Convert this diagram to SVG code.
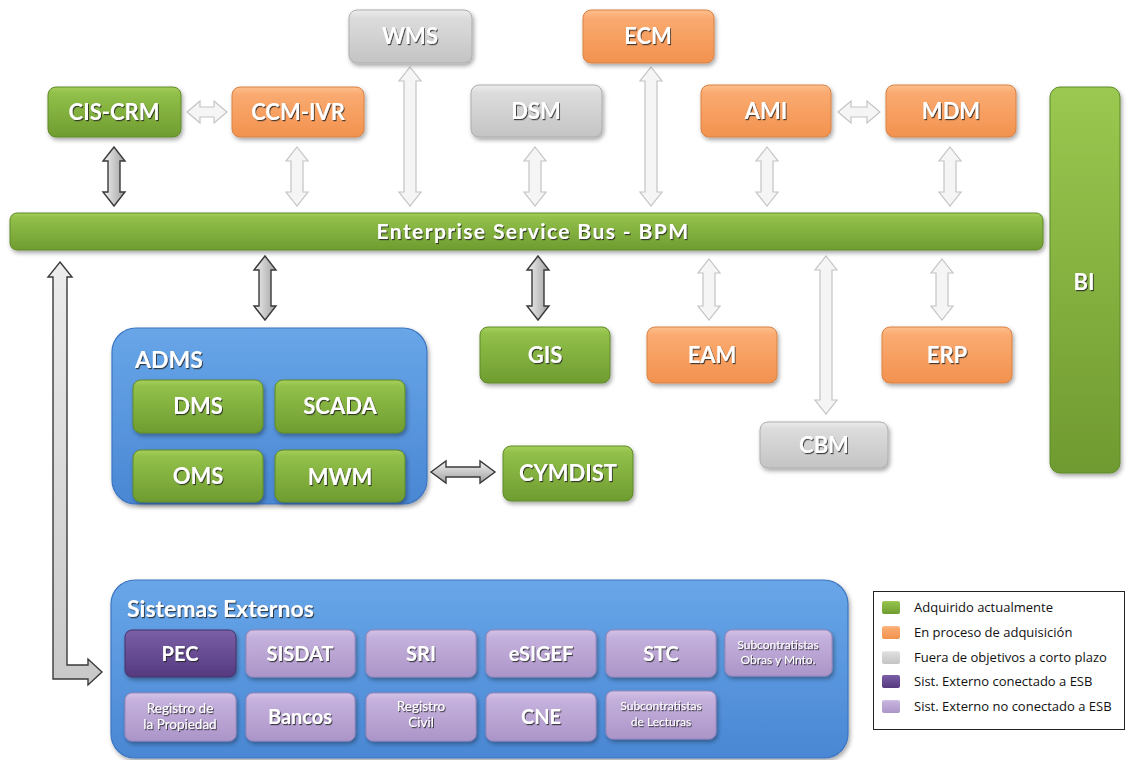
<svg xmlns="http://www.w3.org/2000/svg" width="1129" height="760" viewBox="0 0 1129 760">
<defs>
<linearGradient id="gGreen" x1="0" y1="0" x2="0" y2="1"><stop offset="0" stop-color="#a6cf5c"/><stop offset="0.12" stop-color="#92c04a"/><stop offset="1" stop-color="#6f9c30"/></linearGradient>
<linearGradient id="gGreenBI" x1="0" y1="0" x2="0" y2="1"><stop offset="0" stop-color="#9bc850"/><stop offset="1" stop-color="#6f9a30"/></linearGradient>
<linearGradient id="gOrange" x1="0" y1="0" x2="0" y2="1"><stop offset="0" stop-color="#fdbf8c"/><stop offset="0.15" stop-color="#faaa70"/><stop offset="1" stop-color="#f2924f"/></linearGradient>
<linearGradient id="gGray" x1="0" y1="0" x2="0" y2="1"><stop offset="0" stop-color="#ececec"/><stop offset="0.15" stop-color="#dcdcdc"/><stop offset="1" stop-color="#c4c4c4"/></linearGradient>
<linearGradient id="gPurpleD" x1="0" y1="0" x2="0" y2="1"><stop offset="0" stop-color="#7a5fa6"/><stop offset="1" stop-color="#553a80"/></linearGradient>
<linearGradient id="gPurpleL" x1="0" y1="0" x2="0" y2="1"><stop offset="0" stop-color="#d4c2e8"/><stop offset="0.15" stop-color="#c5b1dc"/><stop offset="1" stop-color="#ab95c9"/></linearGradient>
<linearGradient id="gBlue" x1="0" y1="0" x2="0" y2="1"><stop offset="0" stop-color="#68a6e8"/><stop offset="1" stop-color="#4a87d4"/></linearGradient>
<linearGradient id="gDarkArrowV" x1="0" y1="0" x2="1" y2="0"><stop offset="0" stop-color="#f2f2f2"/><stop offset="1" stop-color="#a0a0a0"/></linearGradient>
<linearGradient id="gDarkArrowH" x1="0" y1="0" x2="0" y2="1"><stop offset="0" stop-color="#f2f2f2"/><stop offset="1" stop-color="#a0a0a0"/></linearGradient>
<linearGradient id="gElbow" x1="0" y1="0" x2="0" y2="1"><stop offset="0" stop-color="#ececec"/><stop offset="1" stop-color="#c8c8c8"/></linearGradient>
<filter id="shadow" x="-10%" y="-10%" width="130%" height="140%"><feDropShadow dx="1.5" dy="2.5" stdDeviation="2" flood-color="#000" flood-opacity="0.35"/></filter>
<filter id="tshadow" x="-10%" y="-20%" width="130%" height="160%"><feDropShadow dx="1" dy="1.2" stdDeviation="0.7" flood-color="#222" flood-opacity="0.8"/></filter>
<style>
.lbl{font-family:Lato,"Liberation Sans",sans-serif;font-weight:bold;fill:#fff;text-anchor:middle;filter:url(#tshadow)}
.big{font-size:22px}
.mid{font-size:20px}
.sm{font-size:13.5px;font-weight:normal}
.xs{font-size:12px;font-weight:normal}
.ttl{font-family:Lato,"Liberation Sans",sans-serif;font-weight:bold;font-size:23px;fill:#fff;filter:url(#tshadow)}
.green{fill:url(#gGreen);stroke:#5f8a28;stroke-width:1}
.orange{fill:url(#gOrange);stroke:#d98244;stroke-width:1}
.gray{fill:url(#gGray);stroke:#adadad;stroke-width:1}
.purd{fill:url(#gPurpleD);stroke:#45306a;stroke-width:1}
.purl{fill:url(#gPurpleL);stroke:#9b86b8;stroke-width:1}
.blue{fill:url(#gBlue);stroke:#3d75c0;stroke-width:1.2}
.box{filter:url(#shadow)}
.la{fill:#f5f5f5;stroke:#c4c4c4;stroke-width:1.2}
.dav{fill:url(#gDarkArrowV);stroke:#3a3a3a;stroke-width:1.4}
.dah{fill:url(#gDarkArrowH);stroke:#3a3a3a;stroke-width:1.4}
.leg{font-family:"Open Sans","Liberation Sans",sans-serif;font-size:13px;fill:#111}
</style>
</defs>
<rect x="0" y="0" width="1129" height="760" fill="#fff"/>

<g id="connectors">
<path class="la" d="M187 112 L200 101 L200 107 L214 107 L214 101 L227 112 L214 123 L214 117 L200 117 L200 123 Z"/>
<path class="la" d="M838 112 L851 101 L851 107 L867 107 L867 101 L880 112 L867 123 L867 117 L851 117 L851 123 Z"/>
<path class="dav" d="M114 147 L125 161 L120 161 L120 192 L125 192 L114 206 L103 192 L108 192 L108 161 L103 161 Z"/>
<path class="la" d="M297 147 L308 161 L303 161 L303 192 L308 192 L297 206 L286 192 L291 192 L291 161 L286 161 Z"/>
<path class="la" d="M410 67 L421 81 L416 81 L416 192 L421 192 L410 206 L399 192 L404 192 L404 81 L399 81 Z"/>
<path class="la" d="M535 147 L546 161 L541 161 L541 192 L546 192 L535 206 L524 192 L529 192 L529 161 L524 161 Z"/>
<path class="la" d="M651 67 L662 81 L657 81 L657 192 L662 192 L651 206 L640 192 L645 192 L645 81 L640 81 Z"/>
<path class="la" d="M767 147 L778 161 L773 161 L773 192 L778 192 L767 206 L756 192 L761 192 L761 161 L756 161 Z"/>
<path class="la" d="M950 147 L961 161 L956 161 L956 192 L961 192 L950 206 L939 192 L944 192 L944 161 L939 161 Z"/>
<path class="dav" d="M265 256 L276 270 L271 270 L271 306 L276 306 L265 320 L254 306 L259 306 L259 270 L254 270 Z"/>
<path class="dav" d="M538 256 L549 270 L544 270 L544 306 L549 306 L538 320 L527 306 L532 306 L532 270 L527 270 Z"/>
<path class="la" d="M709 259 L720 273 L715 273 L715 306 L720 306 L709 320 L698 306 L703 306 L703 273 L698 273 Z"/>
<path class="la" d="M942 259 L953 273 L948 273 L948 306 L953 306 L942 320 L931 306 L936 306 L936 273 L931 273 Z"/>
<path class="la" d="M826 256 L837 270 L832 270 L832 400 L837 400 L826 414 L815 400 L820 400 L820 270 L815 270 Z"/>
<path class="dah" d="M431 472 L446 461 L446 467 L480 467 L480 461 L495 472 L480 483 L480 477 L446 477 L446 483 Z"/>
<path fill="url(#gElbow)" stroke="#3a3a3a" stroke-width="1.4" d="M60 262 L72 277 L67 277 L67 665 L88 665 L88 659 L102 672 L88 685 L88 679 L53 679 L53 277 L48 277 Z"/>
</g>

<g id="esb"><rect class="green box" x="10" y="213" width="1033" height="37" rx="7"/><text class="lbl" x="533" y="239" style="font-size:21px" letter-spacing="1.4">Enterprise Service Bus - BPM</text></g>
<g id="bi"><rect class="green box" x="1050" y="87" width="70" height="386" rx="10" style="fill:url(#gGreenBI)"/><text class="lbl big" x="1084" y="290">BI</text></g>

<g id="cis-crm"><rect class="green box" x="48" y="87" width="133" height="50" rx="8"/><text class="lbl big" x="114" y="120">CIS-CRM</text></g>
<g id="ccm-ivr"><rect class="orange box" x="232" y="87" width="132" height="50" rx="8"/><text class="lbl big" x="298" y="120">CCM-IVR</text></g>
<g id="wms"><rect class="gray box" x="349" y="10" width="123" height="53" rx="8"/><text class="lbl big" x="410" y="44">WMS</text></g>
<g id="dsm"><rect class="gray box" x="471" y="85" width="131" height="52" rx="8"/><text class="lbl big" x="536" y="119">DSM</text></g>
<g id="ecm"><rect class="orange box" x="583" y="10" width="131" height="53" rx="8"/><text class="lbl big" x="648" y="44">ECM</text></g>
<g id="ami"><rect class="orange box" x="701" y="85" width="130" height="52" rx="8"/><text class="lbl big" x="766" y="119">AMI</text></g>
<g id="mdm"><rect class="orange box" x="886" y="85" width="130" height="52" rx="8"/><text class="lbl big" x="951" y="119">MDM</text></g>

<g id="adms">
<rect class="blue box" x="112" y="328" width="315" height="176" rx="24"/>
<text class="ttl" x="135" y="368">ADMS</text>
<g id="dms"><rect class="green box" x="133" y="380" width="130" height="53" rx="8"/><text class="lbl big" x="198" y="414">DMS</text></g>
<g id="scada"><rect class="green box" x="275" y="380" width="130" height="53" rx="8"/><text class="lbl big" x="340" y="414">SCADA</text></g>
<g id="oms"><rect class="green box" x="133" y="450" width="130" height="52" rx="8"/><text class="lbl big" x="198" y="484">OMS</text></g>
<g id="mwm"><rect class="green box" x="275" y="450" width="130" height="52" rx="8"/><text class="lbl big" x="340" y="485">MWM</text></g>
</g>

<g id="gis"><rect class="green box" x="480" y="327" width="130" height="56" rx="8"/><text class="lbl big" x="545" y="363">GIS</text></g>
<g id="eam"><rect class="orange box" x="647" y="327" width="130" height="56" rx="8"/><text class="lbl big" x="712" y="363">EAM</text></g>
<g id="erp"><rect class="orange box" x="882" y="327" width="130" height="56" rx="8"/><text class="lbl big" x="947" y="363">ERP</text></g>
<g id="cbm"><rect class="gray box" x="760" y="422" width="128" height="46" rx="8"/><text class="lbl big" x="824" y="453">CBM</text></g>
<g id="cymdist"><rect class="green box" x="503" y="446" width="130" height="55" rx="8"/><text class="lbl big" x="568" y="481">CYMDIST</text></g>

<g id="sistemas-externos">
<rect class="blue box" x="111" y="580" width="737" height="178" rx="24"/>
<text class="ttl" x="127" y="617">Sistemas Externos</text>
<g id="pec"><rect class="purd box" x="125" y="630" width="111" height="47" rx="7"/><text class="lbl mid" x="180" y="661">PEC</text></g>
<g id="sisdat"><rect class="purl box" x="246" y="630" width="109" height="47" rx="7"/><text class="lbl mid" x="300" y="661">SISDAT</text></g>
<g id="sri"><rect class="purl box" x="366" y="630" width="110" height="47" rx="7"/><text class="lbl mid" x="421" y="661">SRI</text></g>
<g id="esigef"><rect class="purl box" x="486" y="630" width="110" height="47" rx="7"/><text class="lbl mid" x="541" y="661">eSIGEF</text></g>
<g id="stc"><rect class="purl box" x="606" y="630" width="110" height="47" rx="7"/><text class="lbl mid" x="661" y="661">STC</text></g>
<g id="sub-obras"><rect class="purl box" x="725" y="630" width="107" height="46" rx="7"/><text class="lbl xs" x="778" y="649">Subcontratistas</text><text class="lbl xs" x="778" y="664">Obras y Mnto.</text></g>
<g id="registro-propiedad"><rect class="purl box" x="125" y="693" width="111" height="48" rx="7"/><text class="lbl sm" x="180" y="713">Registro de</text><text class="lbl sm" x="180" y="729">la Propiedad</text></g>
<g id="bancos"><rect class="purl box" x="246" y="693" width="109" height="48" rx="7"/><text class="lbl mid" x="300" y="724">Bancos</text></g>
<g id="registro-civil"><rect class="purl box" x="366" y="693" width="110" height="48" rx="7"/><text class="lbl sm" x="421" y="711">Registro</text><text class="lbl sm" x="421" y="727">Civil</text></g>
<g id="cne"><rect class="purl box" x="486" y="693" width="110" height="48" rx="7"/><text class="lbl mid" x="541" y="724">CNE</text></g>
<g id="sub-lecturas"><rect class="purl box" x="606" y="691" width="110" height="48" rx="7"/><text class="lbl xs" x="661" y="710">Subcontratistas</text><text class="lbl xs" x="661" y="726">de Lecturas</text></g>
</g>

<g id="legend">
<rect x="873.5" y="591.5" width="251" height="138" fill="#fff" stroke="#222" stroke-width="1"/>
<rect x="882" y="601" width="18" height="13" rx="2" fill="url(#gGreen)"/>
<text class="leg" x="914" y="612">Adquirido actualmente</text>
<rect x="882" y="626" width="18" height="13" rx="2" fill="url(#gOrange)"/>
<text class="leg" x="914" y="637">En proceso de adquisición</text>
<rect x="882" y="651" width="18" height="13" rx="2" fill="url(#gGray)"/>
<text class="leg" x="914" y="662">Fuera de objetivos a corto plazo</text>
<rect x="882" y="675" width="18" height="13" rx="2" fill="url(#gPurpleD)"/>
<text class="leg" x="914" y="686">Sist. Externo conectado a ESB</text>
<rect x="882" y="700" width="18" height="13" rx="2" fill="url(#gPurpleL)"/>
<text class="leg" x="914" y="711">Sist. Externo no conectado a ESB</text>
</g>
</svg>
